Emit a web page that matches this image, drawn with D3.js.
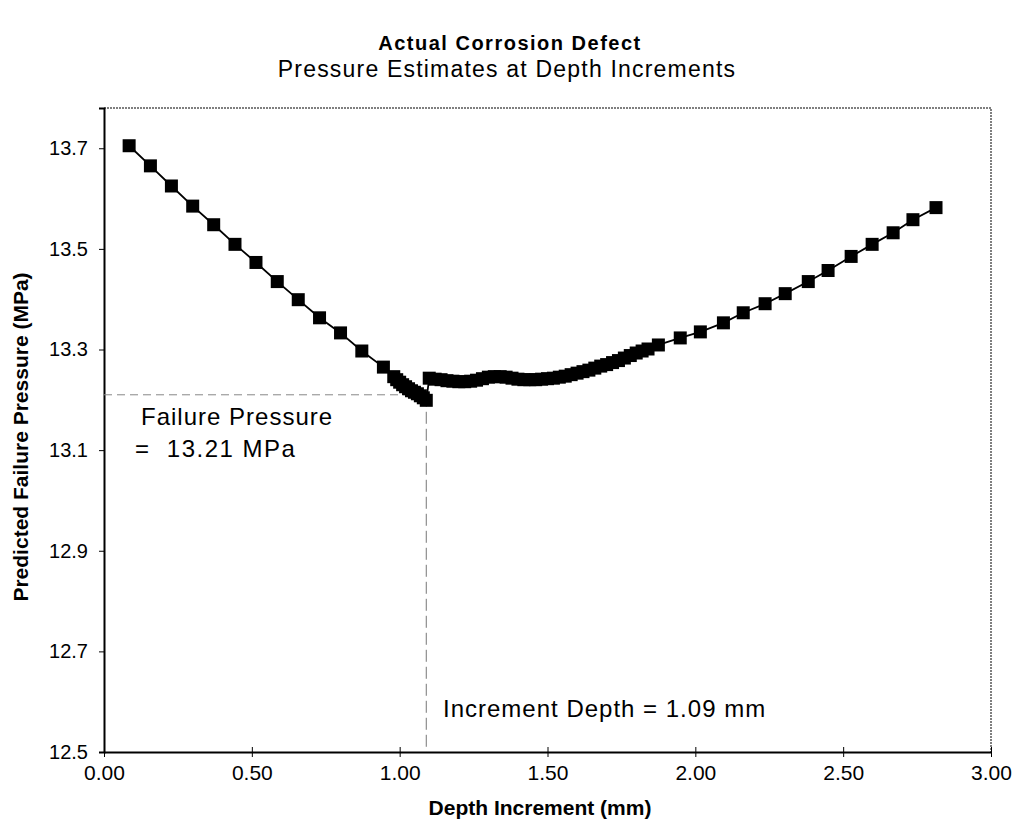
<!DOCTYPE html>
<html>
<head>
  <meta charset="utf-8">
  <title>Actual Corrosion Defect</title>
  <style type="text/css">
body{
  margin: 0;
  background: #fff;
}
text{
  font-family: "Liberation Sans", Arial, sans-serif;
  fill: #000;
}
  </style>
</head>
<body>
<div id="chart"></div>
<script src="https://cdnjs.cloudflare.com/ajax/libs/d3/7.8.5/d3.min.js"></script>
<script type="text/javascript">
// coarse steps before the trough
var descentDepth = [0.085, 0.157, 0.228, 0.300, 0.371, 0.443, 0.514, 0.586, 0.657, 0.729, 0.800, 0.872, 0.945];
var descentPressure = [13.705, 13.665, 13.625, 13.585, 13.548, 13.509, 13.473, 13.435, 13.399, 13.363, 13.333, 13.297, 13.265];
// fine steps into the minimum
var troughDepth = [0.98, 0.99, 1.00, 1.01, 1.02, 1.03, 1.04, 1.05, 1.06, 1.07, 1.08, 1.09];
var troughPressure = [13.246, 13.240, 13.235, 13.230, 13.226, 13.222, 13.218, 13.215, 13.212, 13.208, 13.204, 13.199];
// flat part after the jump
var plateauDepth = [1.10, 1.12, 1.14, 1.16, 1.18, 1.20, 1.22, 1.24, 1.26, 1.28, 1.30, 1.32, 1.34, 1.36, 1.38,
  1.40, 1.42, 1.44, 1.46, 1.48, 1.50, 1.52, 1.54, 1.56, 1.58, 1.60, 1.62, 1.64, 1.66, 1.68, 1.70,
  1.72, 1.74, 1.76, 1.78, 1.80, 1.82, 1.84];
var plateauPressure = [13.243, 13.241, 13.240, 13.238, 13.237, 13.236, 13.236, 13.237, 13.239, 13.242, 13.245, 13.246, 13.246, 13.245, 13.243,
  13.241, 13.240, 13.240, 13.240, 13.241, 13.242, 13.243, 13.245, 13.247, 13.250, 13.253, 13.256, 13.259, 13.263, 13.267, 13.270,
  13.274, 13.278, 13.283, 13.288, 13.293, 13.297, 13.301];
// coarse steps on the way up
var riseDepth = [1.875, 1.949, 2.017, 2.095, 2.162, 2.236, 2.304, 2.382, 2.449, 2.527, 2.598, 2.669, 2.736, 2.814];
var risePressure = [13.309, 13.323, 13.335, 13.353, 13.373, 13.391, 13.411, 13.435, 13.457, 13.485, 13.509, 13.532, 13.558, 13.582];

var xTicks = [0, 0.5, 1.0, 1.5, 2.0, 2.5, 3.0];
var yTicks = [12.5, 12.7, 12.9, 13.1, 13.3, 13.5, 13.7];
var failurePressure = 13.21;
var failureDepth = 1.09;

var depth = descentDepth.concat(troughDepth, plateauDepth, riseDepth);
var pressure = descentPressure.concat(troughPressure, plateauPressure, risePressure);
var data = depth.map(function (d, i) { return {x: d, y: pressure[i]}; });

var W = 1018, H = 827;
var svg = d3.select("#chart").append("svg")
  .attr("width", W)
  .attr("height", H);

var x = d3.scaleLinear().domain([0, 3]).range([104, 991]);
var y = d3.scaleLinear().domain([12.5, 13.78]).range([752, 108]);

// titles
svg.append("text")
  .attr("x", 510).attr("y", 50)
  .style("text-anchor", "middle")
  .style("font-weight", "bold")
  .style("font-size", "20px")
  .style("letter-spacing", "1.5px")
  .text("Actual Corrosion Defect");
svg.append("text")
  .attr("x", 507).attr("y", 77)
  .style("text-anchor", "middle")
  .style("font-size", "23px")
  .style("letter-spacing", "1.2px")
  .text("Pressure Estimates at Depth Increments");

// plot frame (top and right are the light dotted box)
svg.append("path")
  .attr("d", "M" + x(0) + "," + y(13.78) + "H" + x(3) + "V" + y(12.5))
  .attr("fill", "none")
  .attr("stroke", "#555")
  .attr("stroke-width", 1.5)
  .attr("stroke-dasharray", "2,1");

// axes
var xAxis = d3.axisBottom(x).tickValues(xTicks).tickSize(0).tickFormat(d3.format(".2f"));
var gx = svg.append("g").attr("transform", "translate(0," + y(12.5) + ")").call(xAxis);
gx.select(".domain").attr("stroke", "#000").attr("stroke-width", 2);
gx.selectAll(".tick text")
  .attr("y", 13)
  .style("font-size", "21px")
  .style("font-family", "'Liberation Sans', Arial, sans-serif");
gx.selectAll(".tick").append("line")
  .attr("y1", -5).attr("y2", 5)
  .attr("stroke", "#000").attr("stroke-width", 1);

var yAxis = d3.axisLeft(y).tickValues(yTicks).tickSize(5).tickFormat(d3.format(".1f"));
var gy = svg.append("g").attr("transform", "translate(" + x(0) + ",0)").call(yAxis);
gy.select(".domain").attr("stroke", "#000").attr("stroke-width", 2);
gy.selectAll(".tick line").attr("stroke", "#000");
gy.selectAll(".tick text")
  .attr("x", -16)
  .style("font-size", "20px")
  .style("font-family", "'Liberation Sans', Arial, sans-serif");

// axis titles
svg.append("text")
  .attr("x", 540).attr("y", 815)
  .style("text-anchor", "middle")
  .style("font-weight", "bold")
  .style("font-size", "21px")
  .text("Depth Increment (mm)");
svg.append("text")
  .attr("transform", "translate(28,437) rotate(-90)")
  .style("text-anchor", "middle")
  .style("font-weight", "bold")
  .style("font-size", "21px")
  .text("Predicted Failure Pressure (MPa)");

// failure point guide lines
svg.append("line")
  .attr("x1", x(0)).attr("x2", x(failureDepth))
  .attr("y1", y(failurePressure)).attr("y2", y(failurePressure))
  .attr("stroke", "#888").attr("stroke-width", 1)
  .attr("stroke-dasharray", "8,5");
svg.append("line")
  .attr("x1", x(failureDepth)).attr("x2", x(failureDepth))
  .attr("y1", y(failurePressure)).attr("y2", y(12.5))
  .attr("stroke", "#777").attr("stroke-width", 1)
  .attr("stroke-dasharray", "12,5");

// series
var line = d3.line().x(function (d) { return x(d.x); }).y(function (d) { return y(d.y); });
svg.append("path")
  .datum(data)
  .attr("d", line)
  .attr("fill", "none")
  .attr("stroke", "#000")
  .attr("stroke-width", 1.8);

var s = 13;
svg.selectAll("rect.pt")
  .data(data)
  .enter()
  .append("rect")
    .attr("class", "pt")
    .attr("x", function (d) { return x(d.x) - s / 2; })
    .attr("y", function (d) { return y(d.y) - s / 2; })
    .attr("width", s)
    .attr("height", s)
    .attr("fill", "#000");

// annotations
svg.append("text")
  .attr("x", 141).attr("y", 425)
  .style("font-size", "24px")
  .style("letter-spacing", "1px")
  .text("Failure Pressure");
svg.append("text")
  .attr("x", 135).attr("y", 457)
  .style("font-size", "24px")
  .style("letter-spacing", "1.5px")
  .style("white-space", "pre")
  .text("=  13.21 MPa");
svg.append("text")
  .attr("x", 443).attr("y", 717)
  .style("font-size", "24px")
  .style("letter-spacing", "1px")
  .text("Increment Depth = 1.09 mm");
</script>
</body>
</html>
